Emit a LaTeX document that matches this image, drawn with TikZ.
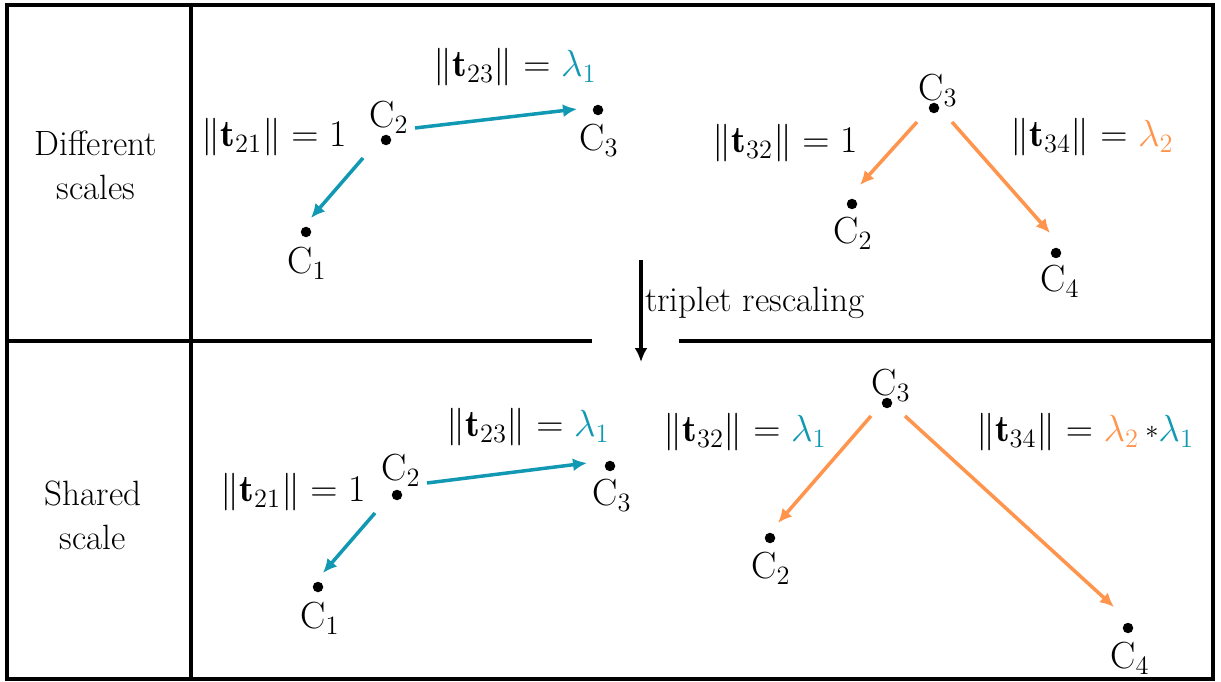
\RequirePackage{fix-cm}
\documentclass[tikz,border=0pt]{standalone}
\usepackage{amsmath}
\usepackage{fontspec}
\usetikzlibrary{arrows.meta,calc}

\definecolor{scaleteal}{RGB}{17,153,180}
\definecolor{scaleorange}{RGB}{255,148,77}

\newcommand{\tnorm}[1]{\|\mathbf{t}_{#1}\|}
\newcommand{\smallstar}{\vcenter{\hbox{$\scriptstyle\ast$}}}

\begin{document}
\begin{tikzpicture}[>={Latex[length=0.28cm,width=0.26cm]}, x=0.02cm, y=-0.02cm,
    dot/.style={circle, fill=black, inner sep=0pt, minimum size=0.21cm},
    lbl/.style={font=\fontsize{21.5}{26}\selectfont},
    rowtxt/.style={align=center, font=\fontsize{20}{25}\selectfont},
    frameline/.style={line width=2.4pt},
    tealarr/.style={->, line width=2pt, scaleteal},
    orangearr/.style={->, line width=2pt, scaleorange}]
  \useasboundingbox (0,0) rectangle (1221,682);
  % frame
  \draw[frameline] (7,5) rectangle (1213,679);
  \draw[frameline] (191,5) -- (191,679);
  \draw[frameline] (7,341) -- (592,341);
  \draw[frameline] (679,341) -- (1213,341);
  \node[rowtxt] (diff) at (96,165) {Different\\scales};
  \node[rowtxt] (shared) at (93,515) {Shared\\scale};

  % rescaling
  \coordinate (rtop) at (641,260);
  \coordinate (rbot) at (641,362);
  \draw[->, line width=2pt] (rtop) -- node[rowtxt, right, pos=0.42, xshift=-2pt] (resc) {triplet rescaling} (rbot);

  % different scales, left triplet
  \node[dot] (a2) at (386,140) {};
  \node[dot] (a1) at (306,232) {};
  \node[dot] (a3) at (598,110) {};
  \node[lbl] (a2l) at (389,117) {$\mathrm{C}_2$};
  \node[lbl] (a1l) at (307,263) {$\mathrm{C}_1$};
  \node[lbl] (a3l) at (599,140) {$\mathrm{C}_3$};
  \draw[tealarr] ($(a2)+(-23,18)$) -- ($(a1)+(5,-14)$);
  \draw[tealarr] ($(a2)+(29,-12)$) -- ($(a3)+(-21,-1)$);
  \node[lbl] (a21) at (274,137) {$\tnorm{21} = 1$};
  \node[lbl] (a23) at (515,67) {$\tnorm{23} = \textcolor{scaleteal}{\lambda_1}$};

  % different scales, right triplet
  \node[dot] (b3) at (934,108) {};
  \node[dot] (b2) at (852,204) {};
  \node[dot] (b4) at (1056,253) {};
  \node[lbl] (b3l) at (938,90) {$\mathrm{C}_3$};
  \node[lbl] (b2l) at (853,233) {$\mathrm{C}_2$};
  \node[lbl] (b4l) at (1060,281) {$\mathrm{C}_4$};
  \draw[orangearr] ($(b3)+(-17,14)$) -- ($(b2)+(8,-19)$);
  \draw[orangearr] ($(b3)+(18,14)$) -- ($(b4)+(-6,-20)$);
  \node[lbl] (b32) at (785,143) {$\tnorm{32} = 1$};
  \node[lbl] (b34) at (1092,137) {$\tnorm{34} = \textcolor{scaleorange}{\lambda_2}$};

  % shared scale, left triplet
  \node[dot] (c2) at (397,495) {};
  \node[dot] (c1) at (318,587) {};
  \node[dot] (c3) at (610,466) {};
  \node[lbl] (c2l) at (401,470) {$\mathrm{C}_2$};
  \node[lbl] (c1l) at (320,618) {$\mathrm{C}_1$};
  \node[lbl] (c3l) at (612,495) {$\mathrm{C}_3$};
  \draw[tealarr] ($(c2)+(-22,18)$) -- ($(c1)+(5,-14)$);
  \draw[tealarr] ($(c2)+(30,-12)$) -- ($(c3)+(-23,-3)$);
  \node[lbl] (c21) at (293,492) {$\tnorm{21} = 1$};
  \node[lbl] (c23) at (528,427) {$\tnorm{23} = \textcolor{scaleteal}{\lambda_1}$};

  % shared scale, right triplet
  \node[dot] (d3) at (887,403) {};
  \node[dot] (d2) at (770,538) {};
  \node[dot] (d4) at (1128,628) {};
  \node[lbl] (d3l) at (891,385) {$\mathrm{C}_3$};
  \node[lbl] (d2l) at (771,568) {$\mathrm{C}_2$};
  \node[lbl] (d4l) at (1130,658) {$\mathrm{C}_4$};
  \draw[orangearr] ($(d3)+(-16,13)$) -- ($(d2)+(8,-15)$);
  \draw[orangearr] ($(d3)+(18,13)$) -- ($(d4)+(-14,-21)$);
  \node[lbl] (d32) at (745,432) {$\tnorm{32} = \textcolor{scaleteal}{\lambda_1}$};
  \node[lbl] (d34) at (1085,432) {$\tnorm{34} = \textcolor{scaleorange}{\lambda_2}\,\smallstar\textcolor{scaleteal}{\lambda_1}$};
\end{tikzpicture}
\end{document}
